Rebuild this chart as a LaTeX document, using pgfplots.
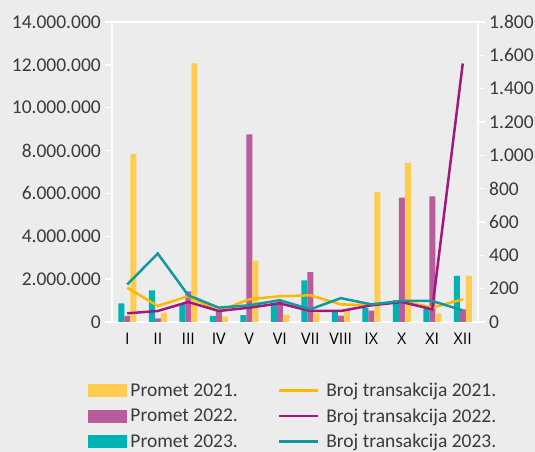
\documentclass[border=0pt]{standalone}
\usepackage{fontspec}
\setmainfont{Carlito}
\newfontfamily\latin{Open Sans}
\usepackage{pgfplots}
\pgfplotsset{compat=1.18}
\definecolor{bg}{HTML}{ECECEC}
\definecolor{cY}{HTML}{FFCC4F}
\definecolor{cM}{HTML}{B95C9E}
\definecolor{cT}{HTML}{00B3B3}
\definecolor{lY}{HTML}{FFB800}
\definecolor{lM}{HTML}{A3177F}
\definecolor{lT}{HTML}{12999E}
\definecolor{txt}{HTML}{3A3A3A}

% Promet (bars, left axis)
\pgfplotstableread{
x   p21       p22      p23
0   7830000   280000   870000
1   440000    170000   1470000
2   12070000  1430000  820000
3   250000    500000   280000
4   2860000   8760000  320000
5   340000    980000   900000
6   440000    2330000  1940000
7   510000    300000   510000
8   6070000   530000   650000
9   7430000   5800000  1020000
10  400000    5860000  600000
11  2160000   590000   2150000
}\promet

% Broj transakcija (lines, right axis)
\pgfplotstableread{
x   b21  b22   b23
0   206  52    225
1   96   66    411
2   155  120   160
3   66   66    86
4   136  86    100
5   155  112   131
6   160  66    76
7   106  66    143
8   100  100   106
9   126  120   126
10  86   76    126
11  136  1551  70
}\broj

\newcommand{\R}[1]{\mbox{\latin\fontsize{16}{16}\selectfont #1}}

\begin{document}
\begin{tikzpicture}[x=1pt,y=1pt]
\fill[bg] (0,0) rectangle (535,452);
\pgfplotsset{base/.style={
  scale only axis, width=366pt, height=300pt,
  at={(112pt,130pt)}, anchor=south west,
  xmin=-0.5, xmax=11.5, ymin=0,
  axis line style={white, line width=1.8pt},
  tick style={white, line width=1.5pt},
  major tick length=7pt, tick align=outside,
  yticklabel style={font=\fontsize{19.5}{19.5}\selectfont, text=txt, inner sep=4pt,
    /pgf/number format/fixed, /pgf/number format/precision=0},
  xticklabel style={font=\latin\fontsize{16}{16}\selectfont, text=black, yshift=-1pt},
  /pgf/number format/assume math mode=true,
  /pgf/number format/1000 sep={.},
  scaled y ticks=false,
}}
\begin{axis}[base, ymax=14000000, ytick distance=2000000,
  ytick pos=left, xtick={0,...,11},
  xticklabels={\R{I},\R{II},\R{III},\R{IV},\R{V},\R{VI},\R{VII},\R{VIII},\R{IX},\R{X},\R{XI},\R{XII}},
  x tick style={draw=none}, xtick pos=bottom,
  ybar=0pt, bar width=6pt]
\addplot[fill=cT, draw=none] table[x=x, y=p23] {\promet};
\addplot[fill=cM, draw=none] table[x=x, y=p22] {\promet};
\addplot[fill=cY, draw=none] table[x=x, y=p21] {\promet};
\end{axis}
\begin{axis}[base, ymax=1800, ytick distance=200,
  axis y line*=right, axis x line=none, xtick=\empty,
  legend columns=2, legend cell align=left,
  legend image code/.code={\draw[#1] (0pt,0pt) -- (39pt,0pt); \path (44pt,0pt);},
  legend style={at={(-0.066,-0.196)}, anchor=north west, draw=none, fill=none,
    inner sep=0pt, font=\fontsize{19.5}{19.5}\selectfont, text=txt,
    row sep=6.5pt,
    /tikz/every even column/.append style={column sep=38pt}}]
\addlegendimage{legend image code/.code={\fill[cY] (0pt,-6pt) rectangle (38pt,6pt); \path (40pt,0pt);}}
\addlegendentry{Promet 2021.}
\addplot[lY, line width=2.5pt] table[x=x, y=b21] {\broj};
\addlegendentry{Broj transakcija 2021.}
\addlegendimage{legend image code/.code={\fill[cM] (0pt,-6pt) rectangle (38pt,6pt); \path (40pt,0pt);}}
\addlegendentry{Promet 2022.}
\addplot[lM, line width=2.5pt] table[x=x, y=b22] {\broj};
\addlegendentry{Broj transakcija 2022.}
\addlegendimage{legend image code/.code={\fill[cT] (0pt,-6pt) rectangle (38pt,6pt); \path (40pt,0pt);}}
\addlegendentry{Promet 2023.}
\addplot[lT, line width=2.5pt] table[x=x, y=b23] {\broj};
\addlegendentry{Broj transakcija 2023.}
\end{axis}
\pgfresetboundingbox
\path (0,0) rectangle (535,452);
\end{tikzpicture}
\end{document}
